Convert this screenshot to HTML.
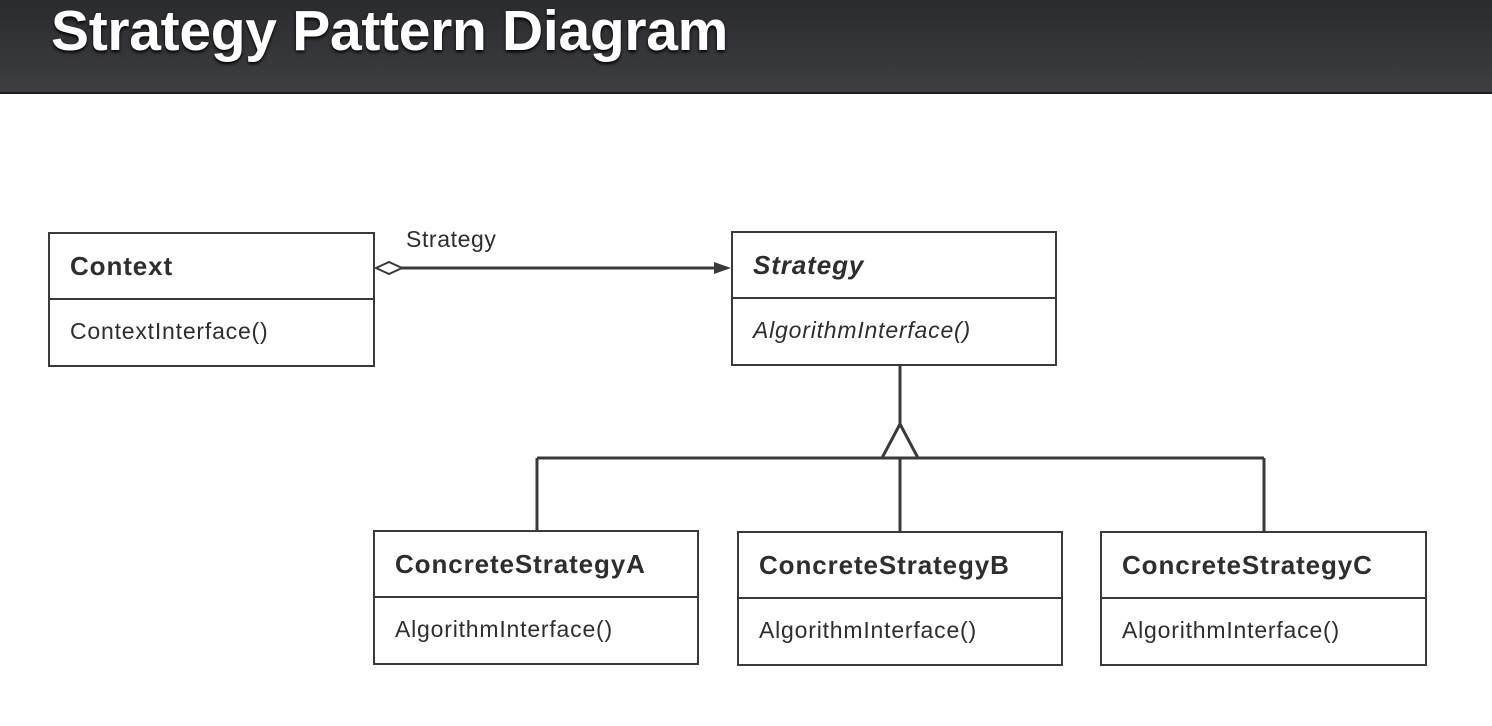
<!DOCTYPE html>
<html><head><style>
body{margin:0;width:1492px;height:726px;background:#fff;overflow:hidden;font-family:"Liberation Sans",sans-serif;position:relative}
.hdr{position:absolute;left:0;top:0;width:1492px;height:92px;background:linear-gradient(#2a2b2e,#3d3e42);border-bottom:2px solid #1c1c1e}
.hdr div{position:absolute;left:51px;top:-2px;font-size:57px;font-weight:bold;color:#fff;letter-spacing:-0.3px;text-shadow:0 2px 3px #000}
.box{position:absolute;border:2px solid #3a3a3c;box-sizing:border-box;color:#2e2e30}
.box .t{position:absolute;left:20px;top:17px;font-size:26px;font-weight:bold;letter-spacing:0.9px;white-space:nowrap}
.box .d{position:absolute;left:0;right:0;top:64px;border-top:2px solid #3a3a3c}
.box .m{position:absolute;left:20px;top:84px;font-size:23px;letter-spacing:0.8px;white-space:nowrap}
</style></head><body>
<div class="hdr"><div>Strategy Pattern Diagram</div></div>
<div class="box" style="left:48px;top:232px;width:327px;height:135px"><div class="t">Context</div><div class="d"></div><div class="m">ContextInterface()</div></div>
<div class="box" style="left:731px;top:231px;width:326px;height:135px"><div class="t" style="font-style:italic">Strategy</div><div class="d"></div><div class="m" style="font-style:italic">AlgorithmInterface()</div></div>
<div class="box" style="left:373px;top:530px;width:326px;height:135px"><div class="t">ConcreteStrategyA</div><div class="d"></div><div class="m">AlgorithmInterface()</div></div>
<div class="box" style="left:737px;top:531px;width:326px;height:135px"><div class="t">ConcreteStrategyB</div><div class="d"></div><div class="m">AlgorithmInterface()</div></div>
<div class="box" style="left:1100px;top:531px;width:327px;height:135px"><div class="t">ConcreteStrategyC</div><div class="d"></div><div class="m">AlgorithmInterface()</div></div>
<svg style="position:absolute;left:0;top:0" width="1492" height="726">
<g stroke="#3a3a3c" stroke-width="3" fill="none">
<line x1="400" y1="268" x2="720" y2="268"/>
<line x1="900" y1="366" x2="900" y2="424"/>
<line x1="537" y1="458" x2="1264" y2="458"/>
<line x1="537" y1="458" x2="537" y2="531"/>
<line x1="900" y1="458" x2="900" y2="531"/>
<line x1="1264" y1="458" x2="1264" y2="531"/>
</g>
<polygon points="376,268 389,262 402,268 389,274" fill="#fff" stroke="#3a3a3c" stroke-width="2"/>
<polygon points="731,268 714,262 714,274" fill="#3a3a3c"/>
<polygon points="900,424 882,458 918,458" fill="#fff" stroke="#3a3a3c" stroke-width="3"/>
<text x="406" y="247" font-family="Liberation Sans" font-size="23" letter-spacing="0.6" fill="#2e2e30">Strategy</text>
</svg>
</body></html>
